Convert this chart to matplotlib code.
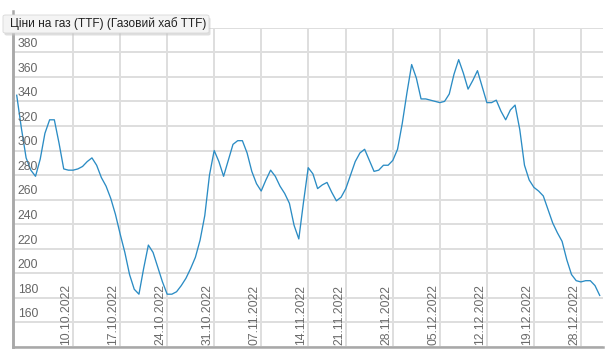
import matplotlib
matplotlib.use("Agg")
import matplotlib.pyplot as plt
from matplotlib.patches import FancyBboxPatch
from matplotlib.lines import Line2D

title = "Ціни на газ (TTF) (Газовий хаб TTF)"

prices = [345, 318, 294, 284, 279, 293, 314, 325, 325, 306,
          285, 284, 284, 285, 287, 291, 294, 288, 278, 271,
          261, 248, 232, 217, 199, 187, 183, 204, 223, 217,
          205, 193, 183, 183, 185, 190, 196, 204, 213, 227,
          247, 280, 300, 291, 279, 292, 305, 308, 308, 298,
          283, 273, 267, 276, 284, 279, 271, 265, 257, 239,
          228, 258, 286, 281, 269, 272, 274, 266, 259, 262,
          269, 280, 291, 298, 301, 292, 283, 284, 288, 288,
          292, 301, 322, 347, 370, 359, 342, 342, 341, 340,
          339, 340, 346, 362, 374, 363, 350, 357, 365, 352,
          339, 339, 341, 332, 325, 333, 337, 317, 288, 276,
          270, 267, 263, 252, 241, 233, 226, 211, 199, 194,
          193, 194, 194, 190, 182]

tick_idx = [12, 22, 32, 42, 52, 62, 70, 80, 90, 100, 110, 120]
tick_labels = ["10.10.2022", "17.10.2022", "24.10.2022", "31.10.2022",
               "07.11.2022", "14.11.2022", "21.11.2022", "28.11.2022",
               "05.12.2022", "12.12.2022", "19.12.2022", "28.12.2022"]
y_ticks = list(range(140, 401, 20))
y_labels = list(range(160, 381, 20))

plt.rcParams['font.family'] = ['Liberation Sans', 'DejaVu Sans']

fig = plt.figure(figsize=(6.12, 3.62), dpi=100)
ax = fig.add_axes([13/612, 1-347/362, (603-13)/612, (347-27.7)/362])

x = list(range(len(prices)))
ax.plot(x, prices, color='#2b8cc4', lw=0.95, zorder=3)

ax.set_xlim(-0.79, 124.7)
ax.set_ylim(140, 400)
ax.set_yticks(y_ticks)
ax.set_xticks(tick_idx)
ax.tick_params(length=0, labelleft=False, labelbottom=False)
ax.grid(True, color='#dedede', lw=1.4)
ax.set_axisbelow(True)
for s in ['top', 'right']:
    ax.spines[s].set_visible(False)
for s in ['left', 'bottom']:
    ax.spines[s].set_color('#a8a8a8')
    ax.spines[s].set_linewidth(1.8)

for v in y_labels:
    ax.text(0.008, v + 1.8, str(v), transform=ax.get_yaxis_transform(),
            ha='left', va='bottom', fontsize=8.8, color='#666666')

for i, lab in zip(tick_idx, tick_labels):
    ax.text(i - 1.45, 141.5, lab, rotation=90, ha='center', va='bottom',
            fontsize=8.8, color='#6a6a6a')

# extended left axis line above plot
fig.add_artist(Line2D([13/612, 13/612], [1-347/362, 1-11/362],
                      color='#a8a8a8', lw=1.8, transform=fig.transFigure))

# tooltip-like title box
shadow = FancyBboxPatch((4.5/612, 1-35.5/362), 206/612, 18/362,
                        boxstyle="round,pad=0,rounding_size=0.004",
                        transform=fig.transFigure, facecolor='#c8c8c8',
                        edgecolor='none', alpha=0.6, zorder=9)
fig.add_artist(shadow)
box = FancyBboxPatch((3/612, 1-33/362), 206/612, 18/362,
                     boxstyle="round,pad=0,rounding_size=0.004",
                     transform=fig.transFigure, facecolor='#f4f4f4',
                     edgecolor='#d8d8d8', lw=0.6, zorder=10)
fig.add_artist(box)
fig.text(9.5/612, 1-24/362, title, ha='left', va='center', fontsize=8.6,
         color='#222222', zorder=11)

fig.savefig("out.png", dpi=100, facecolor='white')
